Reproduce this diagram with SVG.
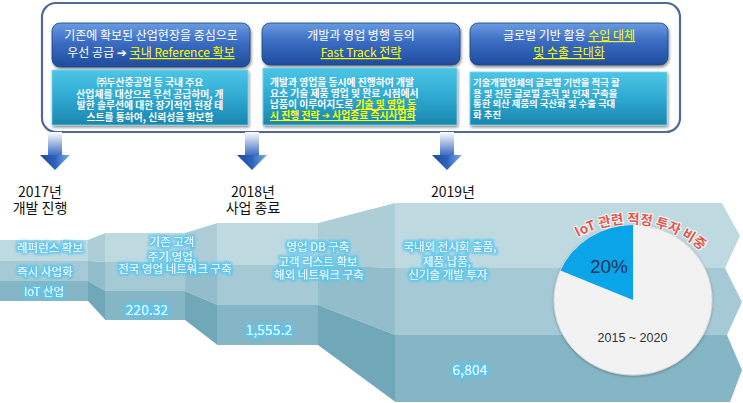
<svg xmlns="http://www.w3.org/2000/svg" width="743" height="403" viewBox="0 0 743 403">
<defs>
  <linearGradient id="hdr" x1="0" y1="0" x2="0" y2="1">
    <stop offset="0" stop-color="#6a9be0"/>
    <stop offset="0.45" stop-color="#3a6cc2"/>
    <stop offset="1" stop-color="#1f4c9c"/>
  </linearGradient>
  <linearGradient id="bdy" x1="0" y1="0" x2="0" y2="1">
    <stop offset="0" stop-color="#4cc6e6"/>
    <stop offset="0.5" stop-color="#2fa9d2"/>
    <stop offset="1" stop-color="#1b86ad"/>
  </linearGradient>
  <linearGradient id="shaft" x1="0" y1="0" x2="0" y2="1">
    <stop offset="0" stop-color="#ffffff"/>
    <stop offset="1" stop-color="#3468c0"/>
  </linearGradient>
  <linearGradient id="head" x1="0" y1="0" x2="1" y2="0">
    <stop offset="0" stop-color="#1e4c9c"/>
    <stop offset="0.5" stop-color="#2d62bb"/>
    <stop offset="1" stop-color="#7fb0ea"/>
  </linearGradient>
  <filter id="shadow" x="-5%" y="-10%" width="110%" height="130%">
    <feGaussianBlur in="SourceAlpha" stdDeviation="1.5"/>
    <feOffset dx="1" dy="2" result="o"/>
    <feComponentTransfer><feFuncA type="linear" slope="0.45"/></feComponentTransfer>
    <feMerge><feMergeNode/><feMergeNode in="SourceGraphic"/></feMerge>
  </filter>
  <filter id="glow" x="-10%" y="-40%" width="120%" height="180%">
    <feMorphology in="SourceAlpha" operator="dilate" radius="2.2" result="d"/>
    <feGaussianBlur in="d" stdDeviation="1" result="b"/>
    <feFlood flood-color="#58c6ee"/>
    <feComposite in2="b" operator="in" result="g"/>
    <feMerge><feMergeNode in="g"/><feMergeNode in="SourceGraphic"/></feMerge>
  </filter>
  <filter id="pieshadow" x="-10%" y="-10%" width="120%" height="120%">
    <feGaussianBlur in="SourceAlpha" stdDeviation="1.5"/>
    <feOffset dx="0" dy="1"/>
    <feComponentTransfer><feFuncA type="linear" slope="0.3"/></feComponentTransfer>
    <feMerge><feMergeNode/><feMergeNode in="SourceGraphic"/></feMerge>
  </filter>
  <path id="arc" d="M 568.6,242.6 A 109,109 0 0,1 709.1,257.9"/>
  <g id="arrow">
    <rect x="-7" y="0" width="14" height="24" fill="url(#shaft)"/>
    <polygon points="-15,23 15,23 0,38" fill="url(#head)"/>
  </g>
</defs>
<style>
  .kr { font-family: "Noto Sans CJK KR", "Noto Sans", "DejaVu Sans", sans-serif; }
  .hdrt { font-size: 12px; fill: #ffffff; text-anchor: middle; }
  .bdyt { font-size: 9.8px; fill: #ffffff; font-weight: bold; }
  .b3 { font-size: 9.4px; }
  .yl { fill: #ffff00; text-decoration: underline; }
  .yr { font-size: 14px; fill: #111111; text-anchor: middle; }
  .lbl { font-size: 11.5px; fill: #effbff; text-anchor: middle; }
  .num { font-size: 14px; fill: #effbff; text-anchor: middle; }
  .t1 { fill: #bfd9e1; } .t2 { fill: #a6cad5; } .t3 { fill: #85b6c6; }
  .s1 { fill: #adcdd7; } .s2 { fill: #93bdca; } .s3 { fill: #71a8b9; }
</style>

<!-- top panel -->
<g id="panel">
  <rect x="42" y="3" width="638" height="129" rx="14" fill="#ffffff" stroke="#4d6b96" stroke-width="2.2"/>
</g>

<g id="box1">
  <rect x="52" y="23" width="198" height="44" rx="8" fill="url(#hdr)" stroke="#1d467f" stroke-width="0.8" filter="url(#shadow)"/>
  <text class="kr hdrt" x="151" y="40">기존에 확보된 산업현장을 중심으로</text>
  <text class="kr hdrt" x="151" y="57">우선 공급 ➔ <tspan class="yl">국내 Reference 확보</tspan></text>
  <rect x="52" y="70" width="196" height="55" fill="url(#bdy)" stroke="#7fd3ea" stroke-width="0.8" filter="url(#shadow)"/>
  <text class="kr bdyt" text-anchor="middle" x="150" y="86">㈜두산중공업 등 국내 주요</text>
  <text class="kr bdyt" text-anchor="middle" x="150" y="97.5">산업체를 대상으로 우선 공급하며, 개</text>
  <text class="kr bdyt" text-anchor="middle" x="150" y="109">발한 솔루션에 대한 장기적인 현장 테</text>
  <text class="kr bdyt" text-anchor="middle" x="150" y="120.5">스트를 통하여, 신뢰성을 확보함</text>
</g>

<g id="box2">
  <rect x="262" y="23" width="198" height="42" rx="8" fill="url(#hdr)" stroke="#1d467f" stroke-width="0.8" filter="url(#shadow)"/>
  <text class="kr hdrt" x="361" y="40">개발과 영업 병행 등의</text>
  <text class="kr hdrt" x="361" y="57"><tspan class="yl">Fast Track 전략</tspan></text>
  <rect x="263" y="68" width="194" height="57" fill="url(#bdy)" stroke="#7fd3ea" stroke-width="0.8" filter="url(#shadow)"/>
  <text class="kr bdyt" x="270" y="86">개발과 영업을 동시에 진행하여 개발</text>
  <text class="kr bdyt" x="270" y="97">요소 기술 제품 영업 및 완료 시점에서</text>
  <text class="kr bdyt" x="270" y="108">납품이 이루어지도록 <tspan class="yl">기술 및 영업 동</tspan></text>
  <text class="kr bdyt" x="270" y="119"><tspan class="yl">시 진행 전략 ➔ 사업종료 즉시사업화</tspan></text>
</g>

<g id="box3">
  <rect x="470" y="23" width="198" height="42" rx="8" fill="url(#hdr)" stroke="#1d467f" stroke-width="0.8" filter="url(#shadow)"/>
  <text class="kr hdrt" x="569" y="40">글로벌 기반 활용 <tspan class="yl">수입 대체</tspan></text>
  <text class="kr hdrt" x="569" y="57"><tspan class="yl">및 수출 극대화</tspan></text>
  <rect x="470" y="72" width="197" height="53" fill="url(#bdy)" stroke="#7fd3ea" stroke-width="0.8" filter="url(#shadow)"/>
  <text class="kr bdyt b3" x="473" y="86">기술개발업체의 글로벌 기반을 적극 활</text>
  <text class="kr bdyt b3" x="473" y="96.5">용 및 전문 글로벌 조직 및 인재 구축을</text>
  <text class="kr bdyt b3" x="473" y="107">통한 외산 제품의 국산화 및 수출 극대</text>
  <text class="kr bdyt b3" x="473" y="117.5">화 추진</text>
</g>

<!-- connectors: arrows -->
<g id="connectors">
  <use href="#arrow" x="55" y="132"/>
  <use href="#arrow" x="252" y="132"/>
  <use href="#arrow" x="447" y="132"/>
</g>

<!-- year labels -->
<g id="years">
  <text class="kr yr" x="40" y="197">2017년</text>
  <text class="kr yr" x="40" y="213">개발 진행</text>
  <text class="kr yr" x="253" y="197">2018년</text>
  <text class="kr yr" x="253" y="213">사업 종료</text>
  <text class="kr yr" x="453" y="197">2019년</text>
</g>

<!-- staircase ribbon -->
<g id="ribbon">
  <rect class="t1" x="0" y="240" width="88.5" height="21"/>
  <rect class="t2" x="0" y="261" width="88.5" height="20"/>
  <rect class="t3" x="0" y="281" width="88.5" height="20"/>
  <polygon class="s1" points="88,240 105.5,233 105.5,262 88,261"/>
  <polygon class="s2" points="88,261 105.5,262 105.5,291 88,281"/>
  <polygon class="s3" points="88,281 105.5,291 105.5,320 88,301"/>
  <rect class="t1" x="105" y="233" width="80.5" height="29"/>
  <rect class="t2" x="105" y="262" width="80.5" height="29"/>
  <rect class="t3" x="105" y="291" width="80.5" height="29"/>
  <polygon class="s1" points="185,233 217.5,223 217.5,265 185,262"/>
  <polygon class="s2" points="185,262 217.5,265 217.5,305 185,291"/>
  <polygon class="s3" points="185,291 217.5,305 217.5,345 185,320"/>
  <rect class="t1" x="217" y="223" width="101.5" height="42"/>
  <rect class="t2" x="217" y="265" width="101.5" height="40"/>
  <rect class="t3" x="217" y="305" width="101.5" height="40"/>
  <polygon class="s1" points="318,223 395.5,203 395.5,268 318,265"/>
  <polygon class="s2" points="318,265 395.5,268 395.5,335 318,305"/>
  <polygon class="s3" points="318,305 395.5,335 395.5,402 318,345"/>
  <polygon class="t1" points="395,203 722,203 740,236 725,268 395,268"/>
  <polygon class="t2" points="395,268 725,268 742,302 727,335 395,335"/>
  <polygon class="t3" points="395,335 727,335 742,370 730,402 395,402"/>
</g>

<!-- ribbon labels -->
<g id="labels" filter="url(#glow)">
  <text class="kr lbl" x="50" y="252">레퍼런스 확보</text>
  <text class="kr lbl" x="45" y="276">즉시 사업화</text>
  <text class="kr lbl" x="44" y="296">IoT 산업</text>
  <text class="kr lbl" x="172" y="246">기존 고객</text>
  <text class="kr lbl" x="172" y="261">주기 영업,</text>
  <text class="kr lbl" x="175" y="273">전국 영업 네트워크 구축</text>
  <text class="kr num" x="147" y="315">220.32</text>
  <text class="kr lbl" x="318" y="251">영업 DB 구축</text>
  <text class="kr lbl" x="318" y="266">고객 리스트 확보</text>
  <text class="kr lbl" x="319" y="279">해외 네트워크 구축</text>
  <text class="kr num" x="269" y="335">1,555.2</text>
  <text class="kr lbl" x="450" y="251">국내외 전시회 출품,</text>
  <text class="kr lbl" x="447" y="266">제품 납품,</text>
  <text class="kr lbl" x="448" y="279">신기술 개발 투자</text>
  <text class="kr num" x="470" y="375">6,804</text>
</g>

<!-- pie chart -->
<g id="pie">
  <ellipse cx="633" cy="300" rx="79" ry="75" fill="#f2f2f2" stroke="#dadada" stroke-width="1" filter="url(#pieshadow)"/>
  <path d="M633,300 L633,225 A79,75 0 0,0 560.5,270.5 Z" fill="#0aa5e8"/>
  <text x="609" y="273" font-family="Liberation Sans, Arial, sans-serif" font-size="19" fill="#1f3160" text-anchor="middle">20%</text>
  <text x="632.5" y="342" font-family="Liberation Sans, Arial, sans-serif" font-size="12.5" fill="#333333" text-anchor="middle">2015 ~ 2020</text>
  <text class="kr" font-size="13.5" font-weight="bold" fill="#e0554a" stroke="#ffffff" stroke-width="1.8" paint-order="stroke" stroke-linejoin="round"><textPath href="#arc" startOffset="50%" text-anchor="middle">IoT 관련 적정 투자 비중</textPath></text>
</g>
</svg>
